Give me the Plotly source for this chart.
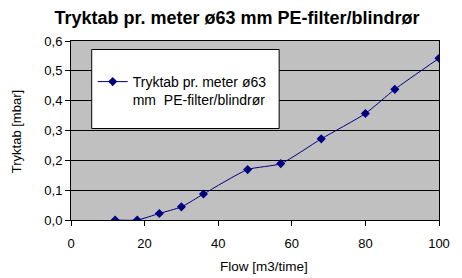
import plotly.graph_objects as go

flow = [12, 18, 24, 30, 36, 48, 57, 68, 80, 88, 100]
tryktab = [0.0, 0.0, 0.022, 0.044, 0.087, 0.169, 0.189, 0.272, 0.357, 0.438, 0.542]
series_name = "Tryktab pr. meter ø63<br>mm  PE-filter/blindrør"
x_ticks = [0, 20, 40, 60, 80, 100]
y_ticks = [0.0, 0.1, 0.2, 0.3, 0.4, 0.5, 0.6]

W, H = 462, 278
L, R, T, B = 71, 18, 41, 58
pw, ph = W - L - R, H - T - B

def px(x):
    return (x - L) / pw

def py(y):
    return 1 - (y - T) / ph

font = "Liberation Sans, Arial, sans-serif"

fig = go.Figure()
fig.add_trace(go.Scatter(
    x=flow, y=tryktab, name=series_name, mode="lines+markers",
    line=dict(color="#000080", width=1, shape="spline", smoothing=0.6),
    marker=dict(symbol="diamond", size=7, color="#000080"),
    showlegend=True,
))

fig.update_layout(
    width=W, height=H,
    margin=dict(l=L, r=R, t=T, b=B),
    paper_bgcolor="white",
    plot_bgcolor="#C0C0C0",
    separators=", ",
    font=dict(family=font, size=13, color="black"),
    title=dict(text="<b>Tryktab pr. meter ø63 mm PE-filter/blindrør</b>",
               x=237 / W, xanchor="center", y=1 - 18 / H, yanchor="middle",
               font=dict(size=18, family=font, color="black")),
    showlegend=True,
    legend=dict(x=px(93), y=py(66), xanchor="left", yanchor="top",
                valign="top",
                bgcolor="rgba(0,0,0,0)", borderwidth=0,
                font=dict(size=14, family=font, color="black")),
    shapes=[dict(type="rect", xref="paper", yref="paper",
                 x0=px(92), x1=px(282), y0=py(49.5), y1=py(128.5),
                 line=dict(color="black", width=1), fillcolor="white", layer="above")],
    xaxis=dict(range=[0, 100], tickvals=x_ticks, showgrid=False, zeroline=False,
               showline=True, linecolor="black", linewidth=1, mirror=True,
               ticks="outside", ticklen=5, tickcolor="black",
               ticklabelstandoff=6,
               tickfont=dict(size=13, family=font, color="black")),
    yaxis=dict(range=[0, 0.6], tickvals=y_ticks, tickformat=".1f",
               showgrid=True, gridcolor="black", gridwidth=1, zeroline=False,
               showline=True, linecolor="black", linewidth=1, mirror=True,
               ticks="outside", ticklen=5, tickcolor="black",
               tickfont=dict(size=13, family=font, color="black")),
    annotations=[
        dict(text="Flow [m3/time]", xref="paper", yref="paper",
             x=px(266.5), y=py(266.5), xanchor="center", yanchor="middle",
             showarrow=False, font=dict(size=13.5, family=font, color="black")),
        dict(text="Tryktab [mbar]", xref="paper", yref="paper",
             x=px(16), y=py(131.5), xanchor="center", yanchor="middle",
             textangle=-90, showarrow=False,
             font=dict(size=13, family=font, color="black")),
    ],
)

fig.write_html("out.html")
